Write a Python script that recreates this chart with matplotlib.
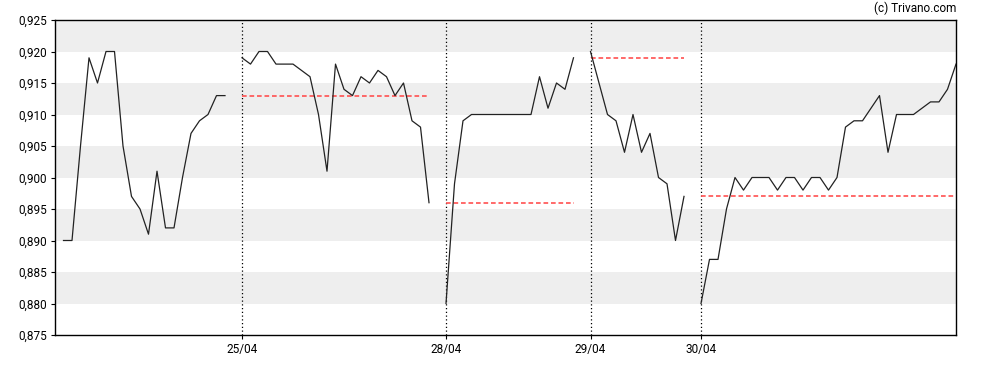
import numpy as np
import matplotlib
matplotlib.use("Agg")
import matplotlib.pyplot as plt

plt.rcParams["font.family"] = ["Roboto", "DejaVu Sans"]

# intraday prices, one list per trading day
day_labels = ["24/04", "25/04", "28/04", "29/04", "30/04"]
day1 = [0.890, 0.890, 0.905, 0.919, 0.915, 0.920, 0.920, 0.905, 0.897, 0.895,
        0.891, 0.901, 0.892, 0.892, 0.900, 0.907, 0.909, 0.910, 0.913, 0.913]
day2 = [0.919, 0.918, 0.920, 0.920, 0.918, 0.918, 0.918, 0.917, 0.916, 0.910,
        0.901, 0.918, 0.914, 0.913, 0.916, 0.915, 0.917, 0.916, 0.913, 0.915,
        0.909, 0.908, 0.896]
day3 = [0.880, 0.899, 0.909, 0.910, 0.910, 0.910, 0.910, 0.910, 0.910, 0.910,
        0.910, 0.916, 0.911, 0.915, 0.914, 0.919]
day4 = [0.920, 0.915, 0.910, 0.909, 0.904, 0.910, 0.904, 0.907, 0.900, 0.899,
        0.890, 0.897]
day5 = [0.880, 0.887, 0.887, 0.895, 0.900, 0.898, 0.900, 0.900, 0.900, 0.898,
        0.900, 0.900, 0.898, 0.900, 0.900, 0.898, 0.900, 0.908, 0.909, 0.909,
        0.911, 0.913, 0.904, 0.910, 0.910, 0.910, 0.911, 0.912, 0.912, 0.914,
        0.918]
days = [day1, day2, day3, day4, day5]

fig = plt.figure(figsize=(9.88, 3.70), dpi=100)
ax = fig.add_axes([55 / 988, 1 - 335 / 370, (956 - 55) / 988, (335 - 20) / 370])

ymin, ymax, step = 0.875, 0.925, 0.005

# alternating background bands
for i, lo in enumerate(np.arange(ymin, ymax - 1e-9, step)):
    if i % 2 == 1:
        ax.axhspan(lo, lo + step, color="#eeeeee", lw=0, zorder=0)

start = 0
day_starts = []
for k, vals in enumerate(days):
    x = np.arange(start, start + len(vals))
    ax.plot(x, vals, color="#222222", lw=0.9, zorder=3)
    if k > 0:
        day_starts.append(start)
        ax.axvline(start, color="black", ls=(0, (1, 2)), lw=0.9, zorder=2)
        # previous day's close
        prev_close = days[k - 1][-1]
        ax.plot([x[0], x[-1]], [prev_close, prev_close], color="#ff5050",
                ls=(0, (2.8, 1.7)), lw=1.2, zorder=2)
    start += len(vals) + 1

ax.set_xlim(-1, start - 2)
ax.set_ylim(ymin, ymax)
ax.set_yticks(np.arange(ymin, ymax + 1e-9, step))
ax.set_yticklabels([f"{v:.3f}".replace(".", ",") for v in np.arange(ymin, ymax + 1e-9, step)])
ax.set_xticks(day_starts)
ax.set_xticklabels(day_labels[1:])
ax.tick_params(labelsize=8.5, length=3, width=0.8, colors="black", pad=3)
for s in ax.spines.values():
    s.set_linewidth(1.0)

fig.text(956 / 988, 1 - 8 / 370, "(c) Trivano.com", ha="right", va="center", fontsize=8.5)

fig.savefig("out.png", dpi=100)
